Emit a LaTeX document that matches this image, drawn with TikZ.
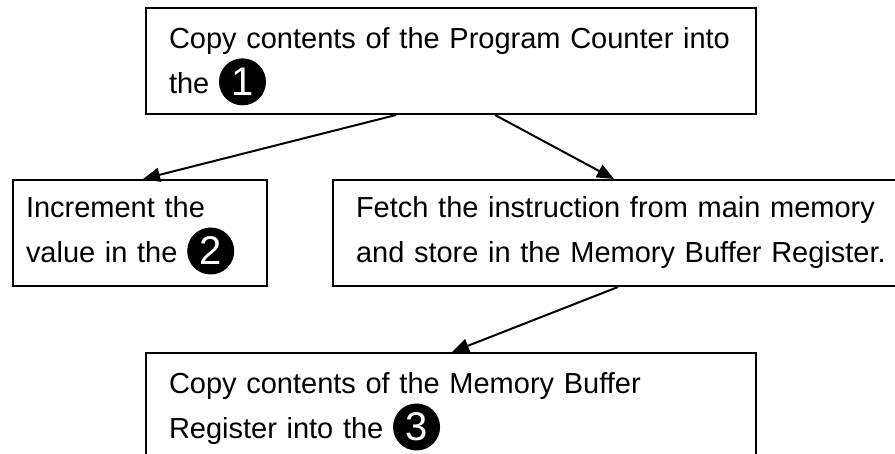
\documentclass[tikz,border=0pt]{standalone}
\usepackage{fontspec}
\setmainfont{Liberation Sans}
\usetikzlibrary{arrows.meta}
\newcommand{\numdot}[1]{\smash{\tikz[baseline={([yshift=-12pt]d.center)}]\node[circle,fill=black,draw=none,text=white,text width=,align=center,inner sep=0pt,minimum size=47pt,anchor=center,font=\fontsize{40}{40}\selectfont] (d) {#1};}}

\begin{document}
\begin{tikzpicture}[x=1pt,y=-1pt,
  box/.style={draw,line width=2pt,anchor=north west,align=left,inner ysep=0pt,minimum height=106pt,font=\fontsize{29}{45}\selectfont},
  link/.style={-{Triangle[length=17pt,width=14pt]},line width=2pt}]
\useasboundingbox (0,0) rectangle (895,454);
\clip (0,0) rectangle (895,454);
\node[box,text width=564pt,inner xsep=23pt] (pc) at (145,7) {Copy contents of the Program Counter into\\the \numdot{1}};
\node[box,text width=228pt,inner xsep=13pt] (inc) at (12,179) {Increment the\\value in the \numdot{2}\vphantom{y}};
\node[box,text width=557pt,inner xsep=23pt] (fetch) at (332,179) {Fetch the instruction from main memory\\and store in the Memory Buffer Register.};
\node[box,text width=564pt,inner xsep=23pt,minimum height=112pt] (cir) at (145,352) {Copy contents of the Memory Buffer\\Register into the \numdot{3}};
\draw[link] ([xshift=251pt]pc.south west) -- ([xshift=131pt]inc.north west);
\draw[link] ([xshift=350pt]pc.south west) -- ([xshift=282pt]fetch.north west);
\draw[link] ([xshift=286pt]fetch.south west) -- ([xshift=307pt]cir.north west);
\end{tikzpicture}
\end{document}
